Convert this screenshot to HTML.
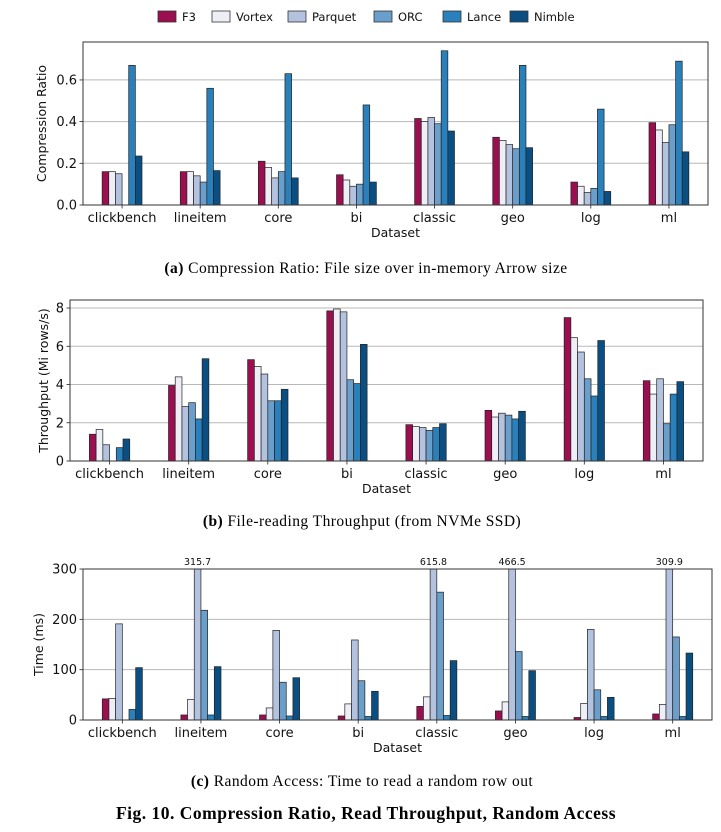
<!DOCTYPE html>
<html><head><meta charset="utf-8">
<style>
html,body{margin:0;padding:0;background:#fff;}
svg{display:block;}
text{font-family:"DejaVu Sans","Liberation Sans",sans-serif;}
.cap{font-family:"Liberation Serif",serif;}
</style></head>
<body>
<svg id="fig" width="721" height="832" viewBox="0 0 721 832" xmlns="http://www.w3.org/2000/svg">
  <g id="legend"></g>
  <g id="chartA"></g>
  <g id="chartB"></g>
  <g id="chartC"></g>
  <text class="cap" x="366" y="273" text-anchor="middle" font-size="15.5" letter-spacing="0.45"><tspan font-weight="bold">(a)</tspan> Compression Ratio: File size over in-memory Arrow size</text>
  <text class="cap" x="362" y="526" text-anchor="middle" font-size="15.5" letter-spacing="0.45"><tspan font-weight="bold">(b)</tspan> File-reading Throughput (from NVMe SSD)</text>
  <text class="cap" x="362" y="786" text-anchor="middle" font-size="15.5" letter-spacing="0.45"><tspan font-weight="bold">(c)</tspan> Random Access: Time to read a random row out</text>
  <text class="cap" x="366" y="819" text-anchor="middle" font-size="17.5" letter-spacing="0.5" font-weight="bold">Fig. 10.  Compression Ratio, Read Throughput, Random Access</text>
</svg>
<script>
const categories = ["clickbench","lineitem","core","bi","classic","geo","log","ml"];
const seriesNames = ["F3","Vortex","Parquet","ORC","Lance","Nimble"];
const seriesColors = ["#9b0e4f","#eeeef6","#b3c3df","#6a9ecb","#2a80bb","#0b4f82"];

const ratioF3 = [0.16,0.16,0.21,0.145,0.415,0.325,0.11,0.395];
const ratioVortex = [0.16,0.16,0.18,0.12,0.40,0.31,0.09,0.36];
const ratioParquet = [0.15,0.14,0.13,0.09,0.42,0.29,0.06,0.30];
const ratioORC = [0,0.11,0.16,0.10,0.39,0.27,0.08,0.385];
const ratioLance = [0.67,0.56,0.63,0.48,0.74,0.67,0.46,0.69];
const ratioNimble = [0.235,0.165,0.13,0.11,0.355,0.275,0.065,0.255];
const ratioTicks = ["0.0","0.2","0.4","0.6"];

const tputF3 = [1.4,3.95,5.3,7.85,1.9,2.65,7.5,4.2];
const tputVortex = [1.65,4.4,4.95,7.95,1.8,2.3,6.45,3.5];
const tputParquet = [0.85,2.85,4.55,7.8,1.75,2.5,5.7,4.3];
const tputORC = [0,3.05,3.15,4.25,1.6,2.4,4.3,1.95];
const tputLance = [0.7,2.2,3.15,4.05,1.75,2.2,3.4,3.5];
const tputNimble = [1.15,5.35,3.75,6.1,1.95,2.6,6.3,4.15];
const tputTicks = ["0","2","4","6","8"];

const timeF3 = [42,10,10,8,27,18,5,12];
const timeVortex = [43,41,24,32,46,36,33,31];
const timeParquet = [191,315.7,178,159,615.8,466.5,180,309.9];
const timeORC = [0,218,75,78,254,136,60,165];
const timeLance = [21,10,8,7,9,7,7,7];
const timeNimble = [104,106,84,57,118,98,45,133];
const timeTicks = ["0","100","200","300"];

const NS = "http://www.w3.org/2000/svg";
function mk(parent, tag, attrs, txt){
  const e = document.createElementNS(NS, tag);
  for (const k in attrs) e.setAttribute(k, attrs[k]);
  if (txt !== undefined) e.textContent = txt;
  parent.appendChild(e);
  return e;
}

const lg = document.getElementById("legend");
const legendX = [158,212,288,374,443,510];
seriesNames.forEach((n,i)=>{
  const r = mk(lg,"rect",{x:legendX[i],y:11,width:18,height:11,fill:seriesColors[i],stroke:"#333","stroke-width":0.8});
  
  
  const t = mk(lg,"text",{x:legendX[i]+24,y:21,"font-size":11.5,fill:"#111"},n);
  
  
});

function drawChart(gid, cfg, series, ticks){
  const g = document.getElementById(gid);
  const {left,right,top,bottom,ymax,ytitle,clip} = cfg;
  const step = (right-left)/categories.length;
  const xC = i => left + step*(i+0.5);
  const yS = v => bottom - (Math.min(v,ymax)/ymax)*(bottom-top);
  const bw = step*0.085;
  ticks.forEach(t=>{
    const v = parseFloat(t), y = yS(v);
    const gl = mk(g,"line",{x1:left,x2:right,y1:y,y2:y,stroke:"#b8b8b8","stroke-width":1});
    
    
    mk(g,"line",{x1:left-3.5,x2:left,y1:y,y2:y,stroke:"#222","stroke-width":0.8});
    const tl = mk(g,"text",{x:left-6,y:y+4.5,"text-anchor":"end","font-size":13,fill:"#111"},t);
    
    
  });
  series.forEach((arr,j)=>{
    arr.forEach((v,i)=>{
      const x = xC(i) + (j-3)*bw;
      const y = yS(v);
      const b = mk(g,"rect",{x:x,y:y,width:bw,height:Math.max(0,bottom-y),fill:seriesColors[j],stroke:"#222","stroke-width":0.7});
      
      
      if (clip && v > ymax){
        const lab = mk(g,"text",{x:x+bw/2,y:top-4,"text-anchor":"middle","font-size":9.5,fill:"#111"},v.toFixed(1));
        
        
      }
    });
  });
  categories.forEach((c,i)=>{
    mk(g,"line",{x1:xC(i),x2:xC(i),y1:bottom,y2:bottom+3.5,stroke:"#222","stroke-width":0.8});
    const t = mk(g,"text",{x:xC(i),y:bottom+17,"text-anchor":"middle","font-size":13,fill:"#111"},c);
    
    
  });
  const frame = mk(g,"rect",{x:left,y:top,width:right-left,height:bottom-top,fill:"none",stroke:"#333","stroke-width":1});
  
  
  const xt = mk(g,"text",{x:(left+right)/2,y:bottom+32,"text-anchor":"middle","font-size":12.5,fill:"#111"},"Dataset");
  
  
  const cy = (top+bottom)/2;
  const yt = mk(g,"text",{x:cfg.ytx,y:cy,"text-anchor":"middle","font-size":12.5,fill:"#111",transform:`rotate(-90 ${cfg.ytx} ${cy})`},ytitle);
  
  
}

drawChart("chartA",{left:83,right:708,top:42,bottom:205,ymax:0.782,ytitle:"Compression Ratio",ytx:46},
  [ratioF3,ratioVortex,ratioParquet,ratioORC,ratioLance,ratioNimble],ratioTicks);
drawChart("chartB",{left:70,right:703,top:300,bottom:461,ymax:8.42,ytitle:"Throughput (Mi rows/s)",ytx:48},
  [tputF3,tputVortex,tputParquet,tputORC,tputLance,tputNimble],tputTicks);
drawChart("chartC",{left:83,right:712,top:569,bottom:720,ymax:300,ytitle:"Time (ms)",ytx:43,clip:true},
  [timeF3,timeVortex,timeParquet,timeORC,timeLance,timeNimble],timeTicks);
</script>
</body></html>
